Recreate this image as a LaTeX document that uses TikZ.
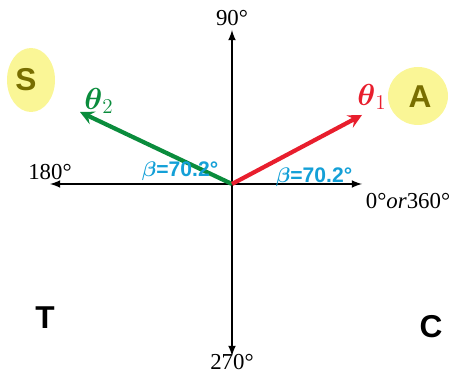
\documentclass[tikz,border=0pt]{standalone}
\usepackage{amsmath}
\usepackage{fontspec}
\setmainfont{Liberation Serif}
\newfontfamily\handfont{Liberation Sans}
\usetikzlibrary{arrows}

\definecolor{angreen}{RGB}{10,140,60}
\definecolor{anred}{RGB}{232,30,45}
\definecolor{anblue}{RGB}{20,160,215}
\definecolor{hilite}{RGB}{250,246,150}
\definecolor{olive}{RGB}{120,110,0}

\tikzset{
    axis/.style={line width=1pt, -latex},
    deg/.style={font=\fontsize{13}{15}\selectfont},
    hand/.style={font=\handfont\bfseries\fontsize{18}{20}\selectfont},
    refang/.style={font=\handfont\bfseries\fontsize{12}{14}\selectfont, text=anblue},
}

\begin{document}
\begin{tikzpicture}[x=0.02cm, y=-0.02cm]
    \useasboundingbox (0,0) rectangle (454,374);

    % quadrant highlights
    \fill [hilite] (31,80) ellipse (24 and 32);
    \fill [hilite] (418,96) ellipse (30 and 29);

    % axes
    \coordinate (O) at (232,184);
    \coordinate (up) at (232,30);
    \coordinate (down) at (232,356);
    \coordinate (left) at (50,184);
    \coordinate (right) at (362,184);
    \draw [axis] (O) -- (up);
    \draw [axis] (O) -- (down);
    \draw [axis] (O) -- (left);
    \draw [axis] (O) -- (right);

    \node[deg] (n90) at (232,18) {90°};
    \node[deg] (n270) at (232,362) {270°};
    \node[deg] (n180) at (50,172) {180°};
    \node[deg] (n0) at (408,201) {0°\textit{or}360°};

    % angles
    \coordinate (g) at (80,112);
    \coordinate (r) at (362,115);
    \draw [angreen, line width=2.4pt, -stealth] (O) -- (g);
    \draw [anred, line width=2.4pt, -stealth] (O) -- (r);

    \node[hand, text=angreen] (th2) at (99,101) {$\boldsymbol\theta_2$};
    \node[hand, text=anred] (th1) at (372,97) {$\boldsymbol\theta_1$};

    \node[refang] (b2) at (180,171) {$\boldsymbol\beta$=70.2°};
    \node[refang] (b1) at (314,177) {$\boldsymbol\beta$=70.2°};

    % quadrant letters
    \node[hand, text=olive] (qS) at (26,80) {S};
    \node[hand, text=olive] (qA) at (420,97) {A};
    \node[hand] (qT) at (45,318) {T};
    \node[hand] (qC) at (431,327) {C};
\end{tikzpicture}
\end{document}
